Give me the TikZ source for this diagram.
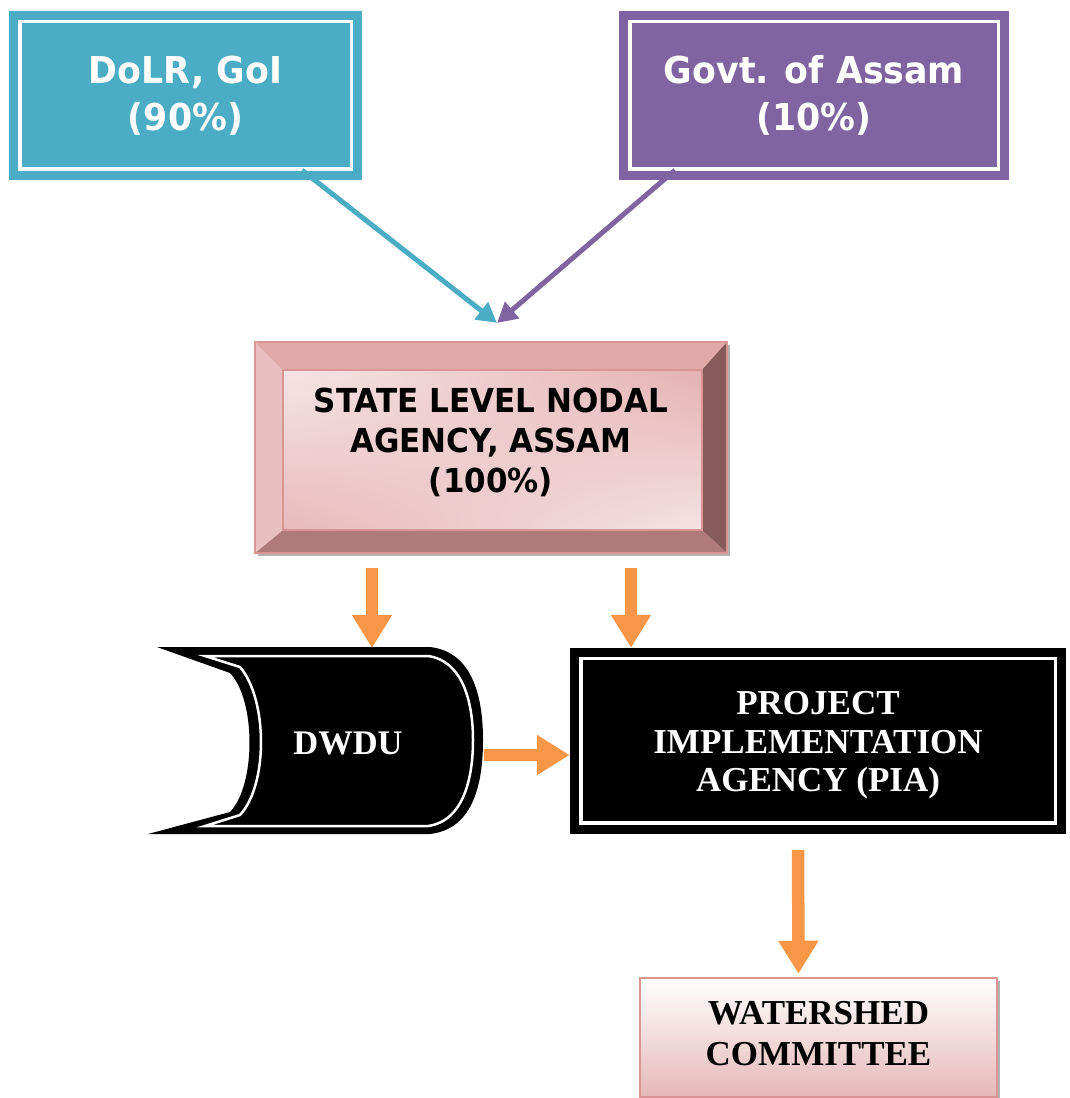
\documentclass[tikz,border=0pt]{standalone}
\usepackage{fontspec}
\setmainfont{Liberation Serif}
\setsansfont{DejaVu Sans}[FakeStretch=0.94]
\usepackage{xcolor}
\usetikzlibrary{arrows.meta,shadings}

\definecolor{goiblue}{HTML}{4BACC6}
\definecolor{govtpurple}{HTML}{8064A2}
\definecolor{floworange}{HTML}{F79646}
\definecolor{roseline}{HTML}{D99594}
\definecolor{bevtop}{HTML}{E2A9A9}
\definecolor{bevright}{HTML}{875B5A}
\definecolor{bevbottom}{HTML}{AF7A79}
\definecolor{bevleft}{HTML}{E9BFC0}
\definecolor{wspink}{HTML}{E5B8B7}

\tikzset{
    inframe/.style={path picture={\draw[white, line width=3.5pt] ([shift={(11pt,-10.5pt)}]path picture bounding box.north west) rectangle ([shift={(-10.5pt,11pt)}]path picture bounding box.south east);}},
    fundbox/.style={inframe, minimum width=353pt, minimum height=169pt, inner sep=0pt, text=white, align=center, font=\sffamily\bfseries\fontsize{37}{47}\selectfont},
    fundarrow/.style={line width=5pt, -{Triangle[length=20pt,width=21pt]}},
    flow/.style={draw=floworange, line width=12.5pt, -{Triangle[length=33pt,width=38pt]}},
    serifbold/.style={align=center, font=\rmfamily\bfseries\fontsize{35}{38.5}\selectfont}
}

\begin{document}
\begin{tikzpicture}[x=1pt, y=-1pt]
    \useasboundingbox (0,0) rectangle (1070,1098);

    \node[fundbox, fill=goiblue] at (185.5,95.5) (dolr) {DoLR, GoI\\(90\%)};
    \node[fundbox, fill=govtpurple, minimum width=390pt] at (814,95.5) (goa) {Govt. of Assam\\(10\%)};
    \coordinate (meet) at (497,323);
    \draw[fundarrow, goiblue] ([xshift=116.5pt,yshift=10pt]dolr.south) -- (meet);
    \draw[fundarrow, govtpurple] ([xshift=-139pt,yshift=10pt]goa.south) -- (meet);

    \fill[gray!60] (258,345) rectangle (730,556);
    \fill[bevtop] (255,342) -- (727,342) -- (702,370) -- (283,370) -- cycle;
    \fill[bevright] (727,342) -- (727,553) -- (702,530) -- (702,370) -- cycle;
    \fill[bevbottom] (727,553) -- (255,553) -- (283,530) -- (702,530) -- cycle;
    \fill[bevleft] (255,553) -- (255,342) -- (283,370) -- (283,530) -- cycle;
    \shade[upper left=bevleft!40!white, upper right=bevtop!90!white, lower left=bevtop!80!white, lower right=bevleft!45!white] (283,370) rectangle (702,530);
    \draw[roseline, line width=1.5pt] (255,342) rectangle (727,553) (283,370) rectangle (702,530);
    \node[align=center, font=\sffamily\bfseries\fontsize{33}{40}\selectfont, minimum width=472pt, minimum height=222pt] at (491,442) (slna) {STATE LEVEL NODAL\\AGENCY, ASSAM\\(100\%)};

    \fill[black] (157,647) -- (430,647) .. controls (474,652) and (483,700) .. (483,740) .. controls (483,782) and (474,829) .. (430,834) -- (148,834) -- (230,812) .. controls (256,785) and (256,700) .. (230,673) -- cycle;
    \draw[white, line width=2.5pt] (205,656) -- (428,656) .. controls (464,661) and (473,705) .. (473,740) .. controls (473,777) and (464,821) .. (428,826) -- (205,826) -- (240,815) .. controls (268,785) and (268,700) .. (240,667) -- cycle;
    \node[serifbold, text=white, font=\rmfamily\bfseries\fontsize{34.5}{38.5}\selectfont] at (348,743) (dwdu) {DWDU};
    \coordinate (dwdutop) at (372,648);
    \coordinate (dwduright) at (484,755);

    \node[inframe, fill=black, minimum width=496pt, minimum height=186pt, inner sep=0pt] at (818,741) (pia) {};
    \node[serifbold, text=white] at ([yshift=-4.5pt]pia.center) (piatext) {PROJECT\\IMPLEMENTATION\\AGENCY (PIA)};
    \coordinate (piatop) at ([xshift=-187pt]pia.north);

    \fill[gray!60] (643,981) rectangle (1000,1100);
    \node[draw=roseline, line width=2.5pt, top color=white, middle color=white!75!wspink, bottom color=wspink, minimum width=357pt, minimum height=119pt, inner sep=0pt] at (818.5,1037.5) (ws) {};
    \node[serifbold, font=\rmfamily\bfseries\fontsize{35}{41.5}\selectfont] at ([yshift=4pt]ws.center) (wstext) {WATERSHED\\COMMITTEE};

    \draw[flow, shorten <=15pt] (slna.south -| dwdutop) -- (dwdutop);
    \draw[flow, shorten <=15pt] (slna.south -| piatop) -- (piatop);
    \draw[flow] (dwduright) -- (pia.west |- dwduright);
    \draw[flow, shorten <=16pt, shorten >=3pt] ([xshift=-20pt]pia.south) -- ([xshift=-20pt]ws.north);
\end{tikzpicture}
\end{document}
